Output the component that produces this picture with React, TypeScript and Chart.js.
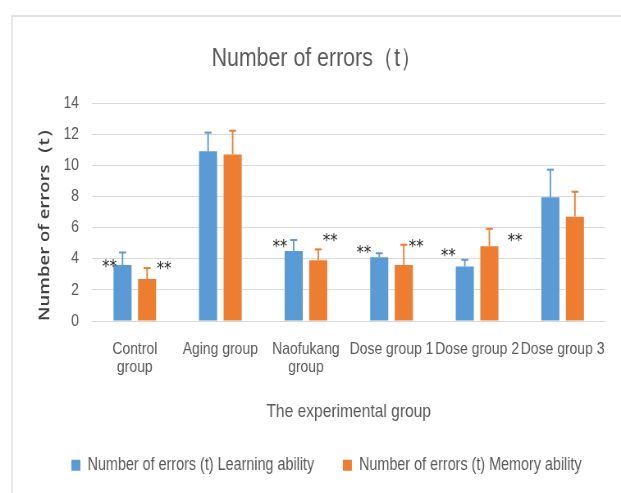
import React, { useEffect, useRef } from 'react';
import { Chart, registerables } from 'chart.js';

Chart.register(...registerables);

const categories: (string | string[])[] = [
  ['Control', 'group'],
  'Aging group',
  ['Naofukang', 'group'],
  'Dose group 1',
  'Dose group 2',
  'Dose group 3',
];
const seriesNames = ['Number of errors (t) Learning ability', 'Number of errors (t) Memory ability'];
const learningValues = [3.6, 10.9, 4.5, 4.1, 3.5, 7.95];
const learningErrors = [0.8, 1.2, 0.7, 0.25, 0.43, 1.77];
const memoryValues = [2.7, 10.7, 3.9, 3.6, 4.8, 6.7];
const memoryErrors = [0.7, 1.52, 0.7, 1.3, 1.12, 1.6];
// significance markers "**" (value level of the marker, null = none)
const learningStars: (number | null)[] = [3.62, null, 4.92, 4.55, 4.34, null];
const memoryStars: (number | null)[] = [3.48, null, 5.27, 4.92, 5.3, null];
const yMin = 0;
const yMax = 14;
const yStep = 2;

const titleText = 'Number of errors（t）';
const yTitleText = 'Number of errors（t）';
const xTitleText = 'The experimental group';
const starText = '**';

// The chart is drawn on a wider canvas and shown horizontally condensed,
// which reproduces the narrow lettering of the original.
const SCREEN_W = 621;
const SCREEN_H = 493;
const CANVAS_W = 757;
const S = CANVAS_W / SCREEN_W;

// style-only offsets for the markers (screen px from bar edge)
const learningStarDx = [3.4, 0, 2.7, 1, 0, 0];
const memoryStarDx = [0.6, 0, -4.4, -4, 9.3, 0];

const BLUE = '#5B9BD5';
const ORANGE = '#ED7D31';
const TEXT = '#595959';
const FONT = "'Liberation Sans', Arial, sans-serif";

export default function App() {
  const ref = useRef<HTMLCanvasElement | null>(null);

  useEffect(() => {
    document.body.style.margin = '0';
    const canvas = ref.current;
    if (!canvas) return;

    const errorsByDs = [learningErrors, memoryErrors];

    const bgPlugin = {
      id: 'bgBorder',
      beforeDraw(chart: any) {
        const { ctx, width, height } = chart;
        ctx.save();
        ctx.fillStyle = '#ffffff';
        ctx.fillRect(0, 0, width, height);
        ctx.strokeStyle = '#d9d9d9';
        ctx.lineWidth = 1.5;
        ctx.beginPath();
        ctx.moveTo(12 * S, height + 2);
        ctx.lineTo(12 * S, 16);
        ctx.lineTo(width + 2, 16);
        ctx.stroke();
        ctx.restore();
      },
      afterLayout(chart: any) {
        if (chart.legend) {
          chart.legend.left += 13 * S;
          chart.legend.right += 13 * S;
        }
        if (chart.titleBlock) {
          chart.titleBlock.left += 3 * S;
          chart.titleBlock.right += 3 * S;
        }
      },
    };

    const yTitlePlugin = {
      id: 'yTitle',
      afterDraw(chart: any) {
        const { ctx } = chart;
        ctx.save();
        ctx.translate(45 * S, 220);
        ctx.rotate(-Math.PI / 2);
        ctx.font = "600 18.5px 'Open Sans', sans-serif";
        ctx.fillStyle = '#404040';
        ctx.textAlign = 'center';
        ctx.textBaseline = 'middle';
        ctx.fillText(yTitleText, 0, 0);
        ctx.restore();
      },
    };

    const errPlugin = {
      id: 'errBars',
      afterDatasetsDraw(chart: any) {
        const { ctx } = chart;
        const y = chart.scales.y;
        ctx.save();
        chart.data.datasets.forEach((ds: any, di: number) => {
          const meta = chart.getDatasetMeta(di);
          const errs = errorsByDs[di];
          meta.data.forEach((bar: any, i: number) => {
            const v = ds.data[i];
            const top = y.getPixelForValue(v + errs[i]);
            ctx.strokeStyle = ds.backgroundColor;
            ctx.lineWidth = 1.5 * S;
            ctx.beginPath();
            ctx.moveTo(bar.x, bar.y);
            ctx.lineTo(bar.x, top);
            ctx.stroke();
            ctx.lineWidth = 2;
            ctx.beginPath();
            ctx.moveTo(bar.x - 3.5 * S, top);
            ctx.lineTo(bar.x + 3.5 * S, top);
            ctx.stroke();
          });
        });
        ctx.restore();
      },
    };

    const starPlugin = {
      id: 'stars',
      afterDatasetsDraw(chart: any) {
        const { ctx } = chart;
        const y = chart.scales.y;
        ctx.save();
        ctx.font = "18px 'DejaVu Sans'";
        ctx.fillStyle = '#262626';
        ctx.textBaseline = 'alphabetic';
        const m0 = chart.getDatasetMeta(0);
        const m1 = chart.getDatasetMeta(1);
        learningStars.forEach((s, i) => {
          if (s == null) return;
          const bar = m0.data[i] as any;
          ctx.textAlign = 'right';
          ctx.fillText(starText, bar.x - bar.width / 2 + learningStarDx[i] * S, y.getPixelForValue(s) + 7.5);
        });
        memoryStars.forEach((s, i) => {
          if (s == null) return;
          const bar = m1.data[i] as any;
          ctx.textAlign = 'left';
          ctx.fillText(starText, bar.x + bar.width / 2 + memoryStarDx[i] * S, y.getPixelForValue(s) + 7.5);
        });
        ctx.restore();
      },
    };

    const chart = new Chart(canvas, {
      type: 'bar',
      data: {
        labels: categories,
        datasets: [
          {
            label: seriesNames[0],
            data: learningValues,
            backgroundColor: BLUE,
            borderWidth: 0,
            categoryPercentage: 0.574,
            barPercentage: 0.736,
          },
          {
            label: seriesNames[1],
            data: memoryValues,
            backgroundColor: ORANGE,
            borderWidth: 0,
            categoryPercentage: 0.574,
            barPercentage: 0.736,
          },
        ],
      },
      options: {
        responsive: false,
        animation: false,
        devicePixelRatio: 1,
        layout: { padding: { left: 12 * S, right: 6 * S, top: 0, bottom: 9 } },
        scales: {
          x: {
            grid: { display: false, drawTicks: false },
            border: { display: false },
            ticks: {
              color: TEXT,
              font: { family: FONT, size: 17, lineHeight: 1.06 },
              padding: 19.5,
              maxRotation: 0,
              autoSkip: false,
            },
            title: {
              display: true,
              text: xTitleText,
              color: TEXT,
              font: { family: FONT, size: 19 },
              padding: { top: 10, bottom: -1.9 },
            },
            afterFit(scale: any) {
              scale.height = 100.5;
            },
          },
          y: {
            min: yMin,
            max: yMax,
            grid: { color: '#d9d9d9', lineWidth: 1, drawTicks: false },
            border: { display: false },
            ticks: {
              stepSize: yStep,
              color: TEXT,
              font: { family: FONT, size: 17 },
              padding: 13 * S,
              autoSkip: false,
            },
            afterFit(scale: any) {
              scale.width = 80 * S;
            },
          },
        },
        plugins: {
          title: {
            display: true,
            text: titleText,
            color: TEXT,
            font: { family: FONT, size: 26, weight: 'normal' },
            padding: { top: 42.9, bottom: 28.9 },
          },
          legend: {
            position: 'bottom',
            labels: {
              boxWidth: 9 * S,
              boxHeight: 11,
              color: TEXT,
              font: { family: FONT, size: 17.5 },
              padding: 35,
            },
          },
          tooltip: { enabled: false },
        },
      },
      plugins: [bgPlugin, errPlugin, starPlugin, yTitlePlugin],
    });

    return () => chart.destroy();
  }, []);

  return (
    <div style={{ width: SCREEN_W, height: SCREEN_H }}>
      <canvas
        ref={ref}
        width={CANVAS_W}
        height={SCREEN_H}
        style={{ display: 'block', width: SCREEN_W + 'px', height: SCREEN_H + 'px' }}
      />
    </div>
  );
}
